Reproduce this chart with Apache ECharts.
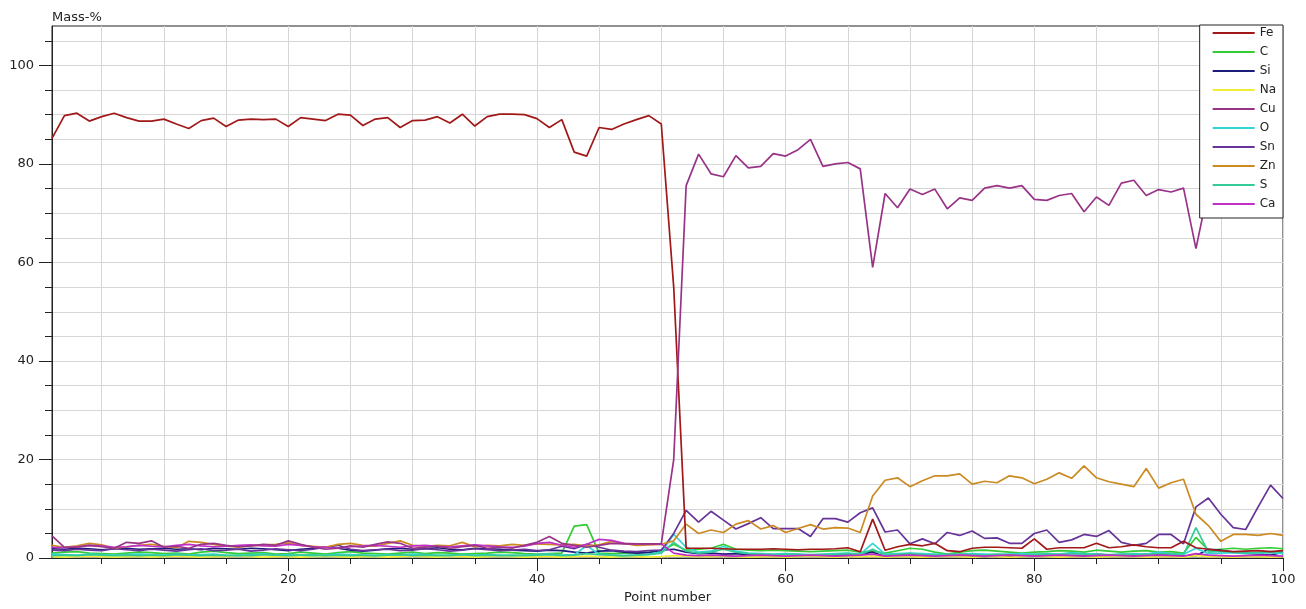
<!DOCTYPE html>
<html>
<head>
<meta charset="utf-8">
<script src="https://cdn.jsdelivr.net/npm/echarts@6/dist/echarts.min.js"></script>
<style>
html,body{margin:0;padding:0;background:#fff;}
#chart{width:1306px;height:609px;}
</style>
</head>
<body>
<div id="chart"></div>
<script>
// ---- DATA ----
const pointNumbers = [1,2,3,4,5,6,7,8,9,10,11,12,13,14,15,16,17,18,19,20,21,22,23,24,25,26,27,28,29,30,31,32,33,34,35,36,37,38,39,40,41,42,43,44,45,46,47,48,49,50,51,52,53,54,55,56,57,58,59,60,61,62,63,64,65,66,67,68,69,70,71,72,73,74,75,76,77,78,79,80,81,82,83,84,85,86,87,88,89,90,91,92,93,94,95,96,97,98,99,100];

const elementNames = ['Fe','C','Si','Na','Cu','O','Sn','Zn','S','Ca'];

const fe = [85.2,89.8,90.3,88.7,89.6,90.3,89.4,88.7,88.7,89.1,88.1,87.2,88.8,89.3,87.6,88.9,89.1,89.0,89.1,87.6,89.4,89.1,88.8,90.1,89.9,87.8,
  89.1,89.4,87.4,88.8,88.9,89.6,88.3,90.1,87.7,89.6,90.1,90.1,90.0,89.2,87.4,89.0,82.4,81.6,87.4,87.0,88.1,89.0,89.8,88.1,
  55.0,2.0,2.0,2.0,1.9,1.8,1.8,1.8,1.9,1.8,1.7,1.8,1.8,1.9,2.1,1.3,7.9,1.6,2.3,2.8,2.5,3.0,1.5,1.3,2.0,2.2,
  2.2,2.1,2.0,3.9,1.8,2.1,2.1,2.1,3.0,2.1,2.3,2.7,2.3,2.1,2.1,3.4,2.1,1.8,1.5,1.3,1.4,1.5,1.3,1.5];

const c = [1.0,1.2,1.3,1.0,0.9,0.8,1.0,1.2,1.1,0.9,1.0,0.8,1.2,1.4,1.1,0.9,1.0,1.1,0.8,0.9,1.2,1.0,0.8,1.1,1.3,1.0,0.9,0.8,1.0,1.2,0.9,1.1,1.0,0.8,0.9,1.0,1.2,1.1,0.9,0.8,0.9,1.0,6.5,6.8,1.0,0.9,1.0,1.1,1.2,1.4,
  2.8,1.6,1.8,2.0,2.8,1.8,1.6,1.5,1.6,1.5,1.4,1.3,1.4,1.5,1.6,1.2,1.4,1.0,1.5,2.0,1.8,1.2,0.8,1.2,1.5,1.6,1.4,1.2,1.0,1.2,1.3,1.5,1.4,1.2,1.6,1.4,1.2,1.4,1.5,1.2,1.3,1.0,4.2,1.6,1.8,2.0,1.8,2.0,2.1,1.9];

const si = [1.9,1.8,2.0,1.9,1.7,1.9,2.0,1.8,1.9,2.0,1.8,1.9,1.7,2.0,1.9,1.8,2.0,1.9,1.7,1.5,1.8,2.0,2.2,2.0,1.6,1.4,1.6,1.9,2.0,1.8,1.9,2.1,1.8,1.7,2.0,1.9,1.8,1.6,1.5,1.4,1.6,1.5,1.2,1.0,1.4,1.5,1.2,1.0,1.1,1.6,
  1.8,1.2,0.9,1.0,0.8,0.9,0.7,0.8,0.6,0.8,0.7,0.6,0.5,0.7,0.6,0.8,1.2,0.3,0.6,0.9,0.6,0.4,0.5,0.6,0.4,0.3,0.5,0.4,0.4,0.6,0.5,0.7,0.5,0.6,0.8,0.6,0.7,0.6,0.8,0.7,0.6,0.4,0.5,1.8,1.6,1.2,1.0,0.8,0.6,1.2];

const na = [0.3,0.2,0.3,0.4,0.3,0.2,0.3,0.3,0.2,0.3,0.4,0.3,0.2,0.3,0.3,0.4,0.3,0.2,0.3,0.3,0.2,0.3,0.4,0.3,0.2,0.3,0.3,0.2,0.3,0.4,0.3,0.2,0.3,0.3,0.2,0.3,0.4,0.3,0.2,0.3,0.3,0.2,0.3,0.4,0.3,0.2,0.3,0.3,0.2,0.3,
  0.5,0.4,0.3,0.3,0.4,0.3,0.2,0.3,0.3,0.2,0.3,0.4,0.3,0.2,0.3,0.3,0.4,0.2,0.3,0.3,0.2,0.3,0.4,0.3,0.2,0.3,0.3,0.2,0.3,0.4,0.3,0.2,0.3,0.3,0.2,0.3,0.4,0.3,0.2,0.3,0.3,0.2,0.5,0.3,0.3,0.2,0.3,0.3,0.2,0.3];

const cu = [4.5,2.2,2.2,2.6,2.3,2.0,3.2,3.0,3.5,2.2,2.4,2.0,2.8,3.0,2.6,2.3,2.5,2.8,2.6,3.5,2.8,2.2,1.8,2.0,2.5,2.2,2.8,3.3,3.0,2.0,2.2,2.4,2.0,2.3,2.6,2.0,2.2,2.0,2.6,3.2,4.4,3.0,2.6,2.2,2.6,3.0,2.9,2.9,2.9,2.9,
  20.0,75.6,82.0,78.0,77.4,81.7,79.2,79.5,82.1,81.6,82.9,85.0,79.5,80.0,80.3,79.0,59.0,74.0,71.1,74.9,73.8,74.9,70.9,73.1,72.6,75.1,
  75.6,75.1,75.6,72.8,72.6,73.6,74.0,70.3,73.3,71.6,76.1,76.7,73.6,74.8,74.3,75.1,62.8,75.0,74.5,76.0,75.0,73.5,74.0,75.0];

const o = [0.8,0.7,0.6,0.8,0.7,0.6,0.7,0.8,0.7,0.6,0.8,0.6,0.7,0.8,0.6,0.5,0.7,0.8,0.6,0.7,0.6,0.5,0.6,0.8,0.7,0.6,0.5,0.7,0.6,0.8,0.7,0.6,0.5,0.7,0.6,0.7,0.6,0.5,0.6,0.7,0.8,0.6,0.7,2.5,0.8,0.6,0.5,0.6,0.8,1.2,
  4.8,2.2,1.2,1.4,2.4,1.4,1.0,0.9,0.8,0.9,0.8,0.7,0.8,0.9,1.0,0.8,3.0,0.8,0.9,1.0,0.9,0.8,0.7,0.8,0.9,0.8,0.7,0.8,0.9,0.8,0.9,0.8,1.1,0.9,0.8,0.7,0.8,0.9,0.8,1.2,0.9,0.8,2.0,0.9,1.0,1.1,0.9,1.0,1.1,0.9];

const sn = [1.6,1.5,1.8,1.6,1.5,1.9,1.7,1.5,1.8,1.6,1.4,1.7,1.9,1.5,1.6,1.8,1.4,1.6,1.9,1.7,1.5,1.8,2.2,2.6,1.8,1.5,1.7,1.8,1.5,1.6,1.9,1.7,1.4,1.6,1.9,1.7,1.5,1.6,1.8,1.5,1.7,2.4,1.9,2.8,2.2,1.6,1.4,1.3,1.5,1.6,
  5.0,9.7,7.3,9.5,7.7,5.9,7.0,8.2,6.0,6.0,6.0,4.4,8.0,8.0,7.3,9.2,10.2,5.3,5.7,2.9,3.9,2.9,5.2,4.6,5.5,4.0,
  4.1,3.0,3.0,5.0,5.7,3.2,3.7,4.8,4.4,5.6,3.2,2.6,3.0,4.8,4.8,2.9,10.4,12.2,8.9,6.2,5.8,10.4,14.8,12.1];

const zn = [2.6,2.2,2.5,3.0,2.7,2.0,2.3,2.6,2.8,2.4,2.1,3.4,3.2,2.8,2.4,2.2,2.5,2.7,2.8,3.1,2.6,2.4,2.2,2.8,3.0,2.6,2.4,3.0,3.5,2.6,2.4,2.6,2.5,3.2,2.3,2.6,2.5,2.8,2.6,2.9,2.8,2.7,2.8,2.5,2.7,3.4,3.0,2.6,2.7,2.8,
  3.5,6.9,5.0,5.7,5.2,6.9,7.6,5.9,6.6,5.2,6.0,6.8,5.9,6.2,6.1,5.2,12.6,15.8,16.3,14.5,15.7,16.7,16.7,17.1,15.0,15.6,
  15.3,16.7,16.3,15.1,16.0,17.3,16.2,18.7,16.3,15.5,15.0,14.5,18.2,14.2,15.3,16.0,8.9,6.6,3.4,4.8,4.8,4.6,5.0,4.6];

const s = [0.5,0.6,0.5,0.7,0.6,0.5,0.6,0.5,0.6,0.5,0.7,0.6,0.5,0.6,0.5,0.6,0.5,0.7,0.6,0.5,0.6,0.7,0.5,0.6,0.5,0.6,0.5,0.6,0.7,0.5,0.6,0.5,0.6,0.7,0.5,0.6,0.5,0.6,0.5,0.6,0.7,0.5,0.6,0.9,0.7,0.6,0.5,0.6,0.7,1.0,
  3.2,1.4,1.0,1.2,1.8,1.2,0.9,0.8,0.7,0.8,0.7,0.6,0.7,0.8,0.9,0.7,1.8,0.6,0.8,0.9,0.7,0.6,0.7,0.8,0.7,0.6,0.8,0.7,0.6,0.7,0.8,0.7,0.9,0.8,0.7,0.6,0.7,0.8,0.7,0.9,0.8,0.7,6.2,1.2,1.4,1.2,1.0,1.1,1.3,1.2];

const ca = [2.2,2.1,2.3,2.6,2.5,2.2,2.3,2.6,2.4,2.3,2.6,2.8,2.5,2.3,2.4,2.6,2.7,2.5,2.4,2.8,2.6,2.3,2.2,2.0,2.3,2.5,2.6,2.4,2.2,2.5,2.6,2.4,2.3,2.5,2.7,2.5,2.3,2.2,2.4,3.0,3.2,2.6,2.2,2.8,3.8,3.6,3.0,2.9,2.9,2.9,
  1.0,0.6,0.5,0.6,0.5,0.4,0.5,0.6,0.5,0.4,0.5,0.6,0.5,0.4,0.5,0.6,0.8,0.4,0.5,0.6,0.5,0.4,0.5,0.6,0.5,0.4,0.5,0.6,0.5,0.4,0.5,0.6,0.5,0.4,0.5,0.6,0.5,0.4,0.5,0.6,0.5,0.4,0.9,0.6,0.5,0.4,0.5,0.6,0.5,0.4];

const seriesValues = [fe, c, si, na, cu, o, sn, zn, s, ca];
const seriesColors = ['#a01818','#33cc33','#1c1c7a','#eeee33','#993388','#33d6d6','#663399','#cc8a22','#33cc99','#c030c8'];

const yMajorTicks = [0,20,40,60,80,100];
const yMinorTicks = [0,5,10,15,20,25,30,35,40,45,50,55,60,65,70,75,80,85,90,95,100,105];

// ---- CHART ----
const chart = echarts.init(document.getElementById('chart'), null, {renderer:'canvas'});
const FONT = 'DejaVu Sans';

const series = elementNames.map((name, i) => ({
  name: name,
  type: 'line',
  xAxisIndex: 0,
  yAxisIndex: 0,
  data: seriesValues[i],
  symbol: 'none',
  showSymbol: false,
  smooth: false,
  color: seriesColors[i],
  lineStyle: {width: 1.7, color: seriesColors[i]},
  emphasis: {disabled: true},
  z: (name === 'Fe' || name === 'Cu') ? 3 : 2
}));

chart.setOption({
  animation: false,
  backgroundColor: '#ffffff',
  textStyle: {fontFamily: FONT},
  title: {
    text: 'Mass-%',
    left: 52, top: 11,
    padding: 0,
    textStyle: {fontFamily: FONT, fontSize: 13, fontWeight: 'normal', color: '#222'}
  },
  grid: {left: 52, right: 23, top: 26, bottom: 48, show: true, borderColor: '#222', borderWidth: 1, backgroundColor: '#fff'},
  legend: {
    data: elementNames,
    orient: 'vertical',
    right: 23, top: 25,
    icon: 'rect',
    itemWidth: 42, itemHeight: 2,
    itemGap: 5,
    itemTextGap: 7,
    padding: [1, 7, 7, 13],
    backgroundColor: '#fff',
    borderColor: '#222',
    borderWidth: 1,
    borderRadius: 0,
    selectedMode: false,
    textStyle: {fontFamily: FONT, fontSize: 12, color: '#222', lineHeight: 14}
  },
  xAxis: [
    {
      type: 'category', position: 'bottom', data: pointNumbers, boundaryGap: false,
      axisLine: {show: true, onZero: false, lineStyle: {color: '#222', width: 1}},
      axisTick: {show: true, length: 6, interval: (i) => (i + 1) % 5 === 0, lineStyle: {color: '#222'}},
      axisLabel: {show: false},
      splitLine: {show: true, interval: (i) => (i + 1) % 5 === 0, lineStyle: {color: '#d6d6d6', width: 1}}
    },
    {
      type: 'category', position: 'bottom', data: pointNumbers, boundaryGap: false,
      name: 'Point number', nameLocation: 'middle', nameGap: 31,
      nameTextStyle: {fontFamily: FONT, fontSize: 13, color: '#222'},
      axisLine: {show: false, onZero: false},
      axisTick: {show: true, length: 13, interval: (i) => (i + 1) % 20 === 0, lineStyle: {color: '#222'}},
      axisLabel: {show: true, interval: (i) => (i + 1) % 20 === 0, margin: 15, fontFamily: FONT, fontSize: 13, color: '#222'},
      splitLine: {show: false}
    }
  ],
  yAxis: [
    {
      type: 'value', position: 'left', min: 0, max: 108, interval: 5,
      axisLine: {show: true, onZero: false, lineStyle: {color: '#222', width: 1}},
      axisTick: {show: true, length: 7, customValues: yMinorTicks, lineStyle: {color: '#222'}},
      axisLabel: {show: false},
      splitLine: {show: true, lineStyle: {color: '#d6d6d6', width: 1}}
    },
    {
      type: 'value', position: 'left', min: 0, max: 108, interval: 20,
      axisLine: {show: false},
      axisTick: {show: true, length: 13, customValues: yMajorTicks, lineStyle: {color: '#222'}},
      axisLabel: {show: true, customValues: yMajorTicks, margin: 18, fontFamily: FONT, fontSize: 13, color: '#222',
        formatter: (v) => (v % 20 === 0 ? String(v) : '')},
      splitLine: {show: false}
    }
  ],
  series: series
});
</script>
</body>
</html>
